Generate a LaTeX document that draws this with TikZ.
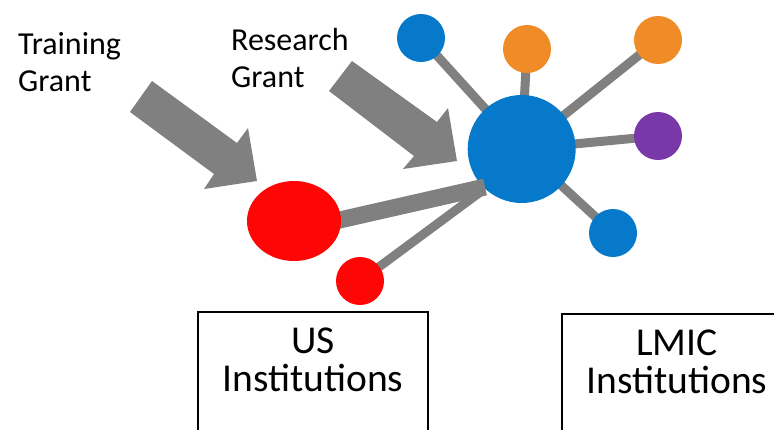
\documentclass[tikz,border=0pt]{standalone}
\usepackage{fontspec}
\setmainfont{Carlito}
\usetikzlibrary{shapes.geometric,backgrounds}
\definecolor{nblue}{RGB}{6,121,202}
\definecolor{norange}{RGB}{240,140,40}
\definecolor{npurple}{RGB}{121,56,167}
\definecolor{nred}{RGB}{255,6,6}
\definecolor{ngray}{RGB}{128,128,128}
\tikzset{
  dot/.style={circle,inner sep=0pt,minimum size=48pt,draw=none},
  link/.style={draw=ngray,line width=9pt},
  grantarrow/.style={fill=ngray,draw=none},
  lbl/.style={inner sep=0pt,align=left,font=\fontsize{32}{37}\selectfont},
  instbox/.style={draw=black,line width=2pt},
  instlbl/.style={inner sep=0pt,align=center,font=\fontsize{39.5}{38}\selectfont}
}
\begin{document}
\begin{tikzpicture}[x=1pt,y=-1pt]
\useasboundingbox (0,0) rectangle (774,429);
% hub and satellites
\node[circle,inner sep=0pt,minimum size=108pt,fill=nblue] (hub) at (521.7,149) {};
\node[dot,fill=nblue] (s1) at (421,38) {};
\node[dot,fill=norange] (s2) at (527,49) {};
\node[dot,fill=norange] (s3) at (658,40) {};
\node[dot,fill=npurple] (s4) at (658,136) {};
\node[dot,fill=nblue] (s5) at (613,233) {};
\begin{scope}[on background layer]
\draw[link] (hub.center) -- (s1.center);
\draw[link] (hub.center) -- (s2.center);
\draw[link] (hub.center) -- (s3.center);
\draw[link] (hub.center) -- (s4.center);
\draw[link] (hub.center) -- (s5.center);
\end{scope}
% US institutions
\coordinate (barend) at (485,187);
\coordinate (barstart) at (300,229);
\coordinate (thinend) at (483,190);
\coordinate (us2c) at (360,281);
\draw[draw=ngray,line width=9pt] (us2c) -- (thinend);
\draw[draw=ngray,line width=17pt] (barstart) -- (barend);
\node[ellipse,inner sep=0pt,minimum width=94pt,minimum height=80pt,fill=nred] (us1) at (294,221) {};
\node[circle,inner sep=0pt,minimum size=48pt,fill=nred] (us2) at (us2c) {};
% grant arrows
\fill[grantarrow] (152,81) -- (237,143) -- (248,128) -- (257,181) -- (204,189) -- (214,174) -- (130,112) -- cycle;
\fill[grantarrow] (352,61) -- (437,122) -- (448,108) -- (457,161) -- (403,169) -- (414,156) -- (329,91) -- cycle;
\node[lbl,anchor=base west] (tg) at (18,91) {Training\\Grant};
\node[lbl,anchor=base west] (rg) at (231,87) {Research\\Grant};
% boxes
\draw[instbox] (198,440) -- (198,312) -- (428,312) -- (428,440);
\draw[instbox] (562,440) -- (562,314) -- (800,314);
\node[instlbl,anchor=base] (usl) at (313,391) {US\\Institutions};
\node[instlbl,anchor=base] (lmicl) at (677,393) {LMIC\\Institutions};
\end{tikzpicture}
\end{document}
